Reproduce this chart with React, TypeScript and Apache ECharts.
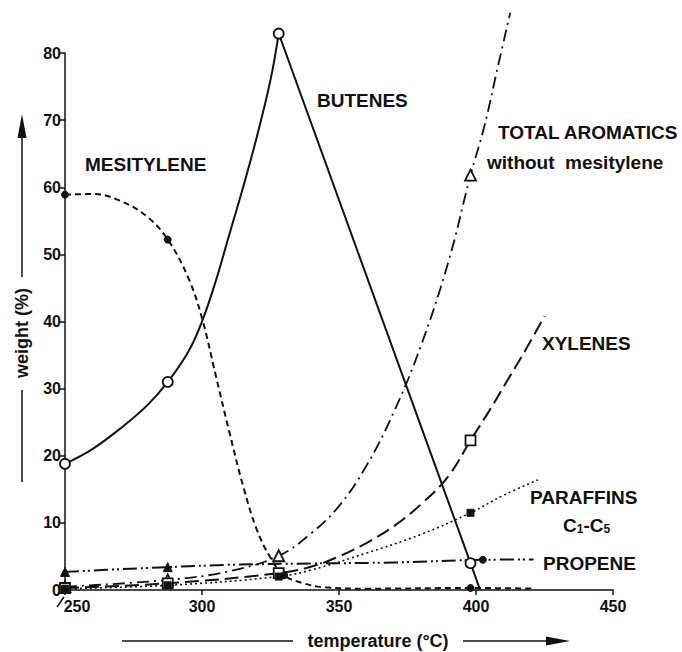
import React, { useEffect, useRef } from "react";
import * as echarts from "echarts";

// Tick values
const xTicks = [250, 300, 350, 400, 450];
const yTicks = [0, 10, 20, 30, 40, 50, 60, 70, 80];

// Measured temperatures (°C)
const temps = [250, 287.5, 328, 398];

// Measured points (weight %)
const butenesMarks = [18.8, 31.0, 82.9, 4.0];
const mesityleneTemps = [250, 287.5, 330, 398];
const mesityleneMarks = [58.9, 52.2, 2.2, 0.3];
const aromaticsMarks = [0.5, 1.5, 5.1, 61.8];
const xyleneMarks = [0.3, 1.0, 2.5, 22.3];
const paraffinMarks = [0.2, 0.7, 2.0, 11.5];
const propeneTriTemps = [250, 287.5];
const propeneTriMarks = [2.7, 3.4];
const propeneDotTemps = [402.5];
const propeneDotMarks = [4.5];

// Drawn curves: [temperature, weight %]
const butenesRise: number[][] = [[250, 18.8], [260, 21], [270, 24], [280, 27.5], [287.5, 31], [295, 35.5], [300, 40], [305, 46], [310, 53], [315, 60], [320, 67.5], [325, 76], [328, 82.9]];
const butenesFall: number[][] = [[328, 82.9], [398, 4.0], [401.5, 0]];
const mesityleneCurve: number[][] = [[250, 58.9], [260, 59], [270, 58], [280, 55.6], [287.5, 52.2], [295, 46.5], [300, 40.5], [305, 32], [310, 23.5], [315, 15.5], [320, 9], [325, 4.8], [330, 2.2], [337, 1.0], [345, 0.4], [360, 0.2], [398, 0.3], [421, 0.2]];
const aromaticsCurve: number[][] = [[250, 0.5], [287.5, 1.5], [310, 2.8], [328, 5.1], [340, 8.5], [350, 12.5], [360, 18.5], [370, 26.5], [380, 36.5], [390, 49], [398, 61.8], [403, 69], [408, 78], [412.5, 86]];
const xyleneCurve: number[][] = [[250, 0.3], [287.5, 1.0], [328, 2.5], [340, 3.5], [350, 5], [360, 7], [370, 9.5], [380, 12.8], [390, 17], [398, 22.3], [405, 26.8], [412, 31.6], [418, 35.7], [425, 40.8]];
const paraffinCurve: number[][] = [[250, 0.2], [287.5, 0.7], [328, 2.0], [340, 3.0], [360, 5.5], [380, 8.3], [398, 11.5], [410, 14.1], [422.6, 16.4]];
const propeneCurve: number[][] = [[250, 2.7], [265, 3.0], [287.5, 3.4], [310, 3.75], [340, 3.95], [370, 4.1], [402.5, 4.5], [421, 4.55]];

const INK = "#111";
const FONT = "'Liberation Sans', Arial, Helvetica, sans-serif";

const zip = (xs: number[], ys: number[]) => xs.map((x, i) => [x, ys[i]]);

function lineSeries(data: number[][], type: any, width: number, smooth: number | boolean) {
  return {
    type: "line",
    data,
    smooth,
    showSymbol: false,
    symbol: "none",
    clip: false,
    silent: true,
    z: 2,
    lineStyle: { color: INK, width, type, cap: "butt", opacity: 1 },
  };
}

function markSeries(data: number[][], symbol: string, size: number, filled: boolean) {
  return {
    type: "scatter",
    data,
    symbol,
    symbolSize: size,
    clip: false,
    silent: true,
    z: 5,
    itemStyle: filled
      ? { color: INK, borderColor: INK, borderWidth: 1, opacity: 1 }
      : { color: "#ffffff", borderColor: INK, borderWidth: 1.8, opacity: 1 },
  };
}

function label(text: string, x: number, y: number, size = 19) {
  return {
    type: "text",
    x,
    y,
    style: { text, fill: INK, font: `bold ${size}px ${FONT}`, textAlign: "left", textVerticalAlign: "middle" },
  };
}

export default function App() {
  const ref = useRef<HTMLDivElement>(null);
  useEffect(() => {
    if (!ref.current) return;
    const chart = echarts.init(ref.current, null, { renderer: "svg" });
    const axisLabelBase = { color: INK, fontWeight: "bold", fontSize: 16, fontFamily: FONT };
    chart.setOption({
      animation: false,
      backgroundColor: "#fff",
      grid: { left: 65, right: 69, top: 53, bottom: 62 },
      xAxis: {
        type: "value",
        min: xTicks[0],
        max: xTicks[xTicks.length - 1],
        interval: 50,
        axisLine: { show: true, lineStyle: { color: INK, width: 1.5 } },
        axisTick: { show: true, length: 5, lineStyle: { color: INK, width: 1.5 } },
        axisLabel: {
          ...axisLabelBase,
          margin: 8,
          formatter: (v: number) => (v === xTicks[0] ? `{s|${v}}` : String(v)),
          rich: { s: { ...axisLabelBase, padding: [0, 0, 0, 24] } },
        },
        splitLine: { show: false },
      },
      yAxis: {
        type: "value",
        min: yTicks[0],
        max: yTicks[yTicks.length - 1],
        interval: 10,
        axisLine: { show: true, lineStyle: { color: INK, width: 1.5 } },
        axisTick: { show: true, length: 5, lineStyle: { color: INK, width: 1.5 } },
        axisLabel: { ...axisLabelBase, margin: 4 },
        splitLine: { show: false },
      },
      series: [
        lineSeries(butenesRise, "solid", 2, 0.4),
        lineSeries(butenesFall, "solid", 2, false),
        lineSeries(mesityleneCurve, [6, 4], 2, 0.4),
        lineSeries(aromaticsCurve, [12, 5, 2, 5], 1.8, 0.4),
        lineSeries(xyleneCurve, [14, 6], 2, 0.4),
        lineSeries(paraffinCurve, [2, 3], 1.6, 0.4),
        lineSeries(propeneCurve, [14, 4, 2, 3, 2, 4], 2, 0.4),
        markSeries(zip(temps, aromaticsMarks), "triangle", 11, false),
        markSeries(zip(temps, xyleneMarks), "rect", 10, false),
        markSeries(zip(temps, paraffinMarks), "rect", 7, true),
        markSeries(zip(mesityleneTemps, mesityleneMarks), "circle", 7, true),
        markSeries(zip(propeneTriTemps, propeneTriMarks), "triangle", 9, true),
        markSeries(zip(propeneDotTemps, propeneDotMarks), "circle", 7, true),
        markSeries(zip(temps, butenesMarks), "circle", 10, false),
      ],
      graphic: [
        label("MESITYLENE", 85, 164),
        label("BUTENES", 317, 100),
        label("TOTAL AROMATICS", 498, 132),
        label("without  mesitylene", 487, 162),
        label("XYLENES", 542, 343),
        label("PARAFFINS", 530, 497),
        {
          type: "text",
          x: 563,
          y: 525,
          style: {
            text: "{b|C}{s|1}{b|-C}{s|5}",
            textVerticalAlign: "middle",
            rich: {
              b: { font: `bold 19px ${FONT}`, fill: INK },
              s: { font: `bold 12px ${FONT}`, fill: INK, padding: [8, 0, 0, 0] },
            },
          },
        },
        label("PROPENE", 543, 563),
        // origin slash
        { type: "line", shape: { x1: 64, y1: 597, x2: 57, y2: 607 }, style: { stroke: INK, lineWidth: 1.5 } },
        // y axis name with arrow
        {
          type: "text",
          x: 22,
          y: 333,
          rotation: Math.PI / 2,
          style: { text: "weight (%)", fill: INK, font: `bold 18px ${FONT}`, textAlign: "center", textVerticalAlign: "middle" },
        },
        { type: "line", shape: { x1: 22, y1: 390, x2: 22, y2: 482 }, style: { stroke: INK, lineWidth: 1.5 } },
        { type: "line", shape: { x1: 22, y1: 277, x2: 22, y2: 134 }, style: { stroke: INK, lineWidth: 1.5 } },
        { type: "polygon", shape: { points: [[22, 114], [17.5, 138], [26.5, 138]] }, style: { fill: INK } },
        // x axis name with arrow
        {
          type: "text",
          x: 378,
          y: 641,
          style: { text: "temperature (°C)", fill: INK, font: `bold 18px ${FONT}`, textAlign: "center", textVerticalAlign: "middle" },
        },
        { type: "line", shape: { x1: 122, y1: 641, x2: 293, y2: 641 }, style: { stroke: INK, lineWidth: 1.5 } },
        { type: "line", shape: { x1: 463, y1: 641, x2: 550, y2: 641 }, style: { stroke: INK, lineWidth: 1.5 } },
        { type: "polygon", shape: { points: [[570, 641], [546, 636.5], [546, 645.5]] }, style: { fill: INK } },
      ],
    });
    return () => chart.dispose();
  }, []);
  return <div ref={ref} style={{ width: 682, height: 652, position: "absolute", left: 0, top: 0 }} />;
}
